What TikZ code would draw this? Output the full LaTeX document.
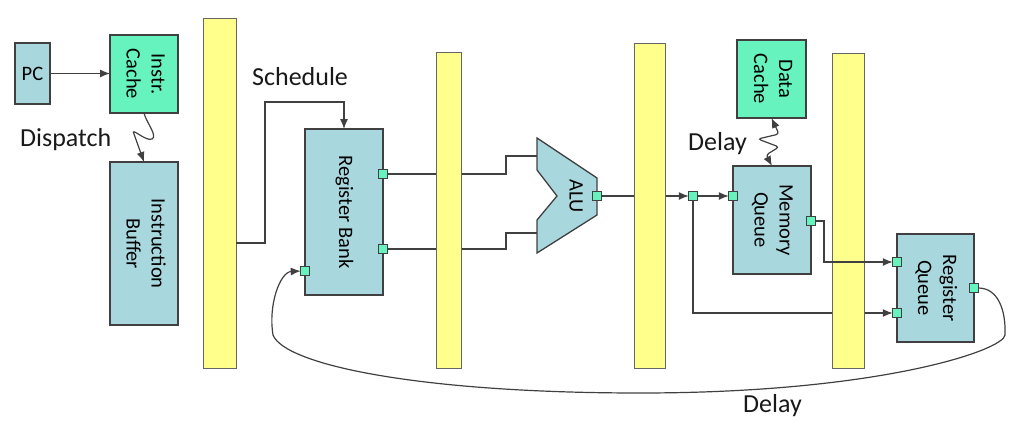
\documentclass[tikz,border=0pt]{standalone}
\usepackage{fontspec}
\setmainfont{Carlito}
\usetikzlibrary{arrows.meta}
\pgfdeclarelayer{background}
\pgfsetlayers{background,main}
\definecolor{boxblue}{RGB}{168,216,222}
\definecolor{aqua}{RGB}{102,243,190}
\definecolor{barY}{RGB}{255,255,140}
\definecolor{bordc}{RGB}{64,64,64}
\tikzset{
  box/.style={draw=bordc, line width=1.3pt, inner sep=0pt, outer sep=0pt, font=\fontsize{20.5}{25}\selectfont, align=center},
  bluebox/.style={box, fill=boxblue},
  aquabox/.style={box, fill=aqua},
  barbox/.style={draw=bordc!80, line width=0.8pt, fill=barY, inner sep=0pt, outer sep=0pt},
  port/.style={draw=bordc, fill=aqua, line width=0.9pt, minimum size=8.5pt, inner sep=0pt, outer sep=0pt},
  wire/.style={line width=1.2pt, draw=bordc},
  arr/.style={wire, -{Latex[length=10pt,width=8pt]}},
  darr/.style={wire, {Latex[length=10pt,width=8pt]}-{Latex[length=10pt,width=8pt]}},
  lbl/.style={font=\fontsize{26}{30}\selectfont, inner sep=0pt, text=black!90}
}
\newcommand{\vtext}[1]{\rotatebox{-90}{\begin{tabular}{@{}c@{}}#1\end{tabular}}}
\begin{document}
\begin{tikzpicture}[x=1pt,y=-1pt]
\useasboundingbox (0,0) rectangle (1021,429);
% pipeline bars
\node[barbox, minimum width=33pt, minimum height=350pt] (bar1) at (219.5,193) {};
\node[barbox, minimum width=25pt, minimum height=316pt] (bar2) at (448.5,210) {};
\node[barbox, minimum width=31pt, minimum height=325pt] (bar3) at (649.5,205.5) {};
\node[barbox, minimum width=32pt, minimum height=315pt] (bar4) at (848,210.5) {};
% boxes
\node[bluebox, minimum width=35pt, minimum height=61pt] (pc) at (32.5,73.5) {PC};
\node[aquabox, minimum width=68pt, minimum height=78pt] (ic) at (144,74) {\vtext{Instr.\\Cache}};
\node[bluebox, minimum width=68pt, minimum height=163pt] (ib) at (144,243.5) {\vtext{Instruction\\Buffer}};
\node[bluebox, minimum width=78pt, minimum height=166pt] (rb) at (344,212) {\vtext{Register Bank}};
\node[aquabox, minimum width=69pt, minimum height=78pt] (dc) at (771.5,79) {\vtext{Data\\Cache}};
\node[bluebox, minimum width=78pt, minimum height=108pt] (mq) at (772,220) {\vtext{Memory\\Queue}};
\node[bluebox, minimum width=77pt, minimum height=108pt] (rq) at (935.5,288) {\vtext{Register\\Queue}};
% ALU
\filldraw[fill=boxblue, draw=bordc, line width=1.3pt, line join=miter]
  (537,138) -- (597,178) -- (597,215) -- (537,253) -- (537,220) -- (557,196) -- (537,170) -- cycle;
\node[font=\fontsize{20.5}{25}\selectfont, inner sep=0pt] (alulbl) at (576,196) {\rotatebox{-90}{ALU}};
\coordinate (alu1) at (537,156);
\coordinate (alu2) at (537,233);
% ports
\node[port] (rbo1) at (383,174) {};
\node[port] (rbo2) at (383,249) {};
\node[port] (rbi) at (305,271) {};
\node[port] (aluo) at (597,196) {};
\node[port] (jn) at (693,196) {};
\node[port] (mqi) at (733,196) {};
\node[port] (mqo) at (811,221) {};
\node[port] (rqi1) at (897,262) {};
\node[port] (rqi2) at (897,313) {};
\node[port] (rqo) at (974,288) {};
% helper coordinates
\coordinate (s0) at (236,243);
\coordinate (s1) at (265,102);
\coordinate (u1) at (506,156);
\coordinate (u2) at (506,233);
\coordinate (m1) at (824,262);
% wires behind bars
\begin{pgfonlayer}{background}
\draw[wire] (rbo1.east) -| (u1) -- (alu1);
\draw[wire] (rbo2.east) -| (u2) -- (alu2);
\draw[arr] (aluo.east) -- (jn.west);
\draw[arr] (jn.south) |- (rqi2.west);
\end{pgfonlayer}
% wires in front
\draw[arr] (pc.east) -- (ic.west |- pc.east);
\draw[arr] (ic.south) .. controls (146,122) and (158,136) .. (152,139)
  .. controls (146,142) and (130,126) .. (134,134) -- (ib.north);
\draw[arr] (s0) -| (s1) -| (rb.north);
\draw[arr] (jn.east) -- (mqi.west);
\draw[arr] (mqo.east) -| (m1) -- (rqi1.west);
\draw[darr, rounded corners=3pt] (dc.south) -- (779,134) -- (758,139) -- (779,147) -- (766,155) -- (mq.north);
\draw[arr] (rqo.east) .. controls (998,288) and (1006,310) .. (1005,335)
  .. controls (1004,350) and (880,393) .. (640,393)
  .. controls (420,393) and (285,365) .. (273,335)
  .. controls (268,305) and (280,272) .. (rbi.west);
% labels
\node[lbl, anchor=base west] (ldispatch) at (20,146) {Dispatch};
\node[lbl, anchor=base west] (lschedule) at (252,85) {Schedule};
\node[lbl, anchor=base west] (ldelay1) at (688,150) {Delay};
\node[lbl, anchor=base west] (ldelay2) at (743,412) {Delay};
\end{tikzpicture}
\end{document}
